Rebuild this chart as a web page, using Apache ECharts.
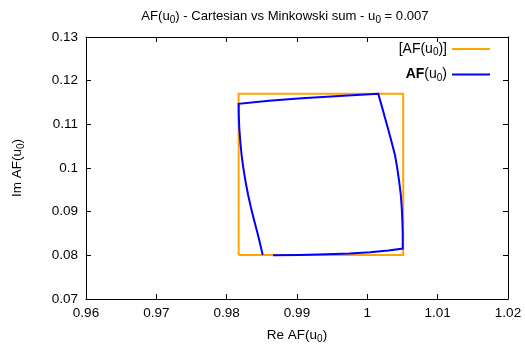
<!DOCTYPE html>
<html>
<head>
<meta charset="utf-8">
<script src="https://cdn.jsdelivr.net/npm/echarts@6/dist/echarts.min.js"></script>
<style>html,body{margin:0;padding:0;background:#fff;}#c{width:525px;height:351px;}</style>
</head>
<body>
<div id="c"></div>
<script>
var xTicks = [0.96, 0.97, 0.98, 0.99, 1.00, 1.01, 1.02];
var yTicks = [0.07, 0.08, 0.09, 0.10, 0.11, 0.12, 0.13];
// Cartesian (interval) enclosure [AF(u0)]
var hullX = [0.9817, 1.0051, 1.0051, 0.9817, 0.9817];
var hullY = [0.0801, 0.0801, 0.1170, 0.1170, 0.0801];
// Minkowski sum AF(u0) boundary: bottom -> right -> top -> left (open at bottom-left)
var afX = [0.9866, 0.9904, 0.9942, 0.9975, 1.0004, 1.0030, 1.00504,
           1.00503, 1.00498, 1.00489, 1.00475, 1.00452, 1.00425, 1.00393, 1.00328, 1.00265, 1.00208, 1.00156,
           0.9960, 0.9907, 0.9860, 0.98170,
           0.98172, 0.98180, 0.98194, 0.98212, 0.98237, 0.98267, 0.98303, 0.98344, 0.98391, 0.98440, 0.98478, 0.98512];
var afY = [0.0800, 0.0801, 0.08025, 0.0804, 0.0807, 0.0811, 0.08155,
           0.0850, 0.0880, 0.0910, 0.0940, 0.0970, 0.1000, 0.1030, 0.1070, 0.1107, 0.1140, 0.1170,
           0.1165, 0.1160, 0.1154, 0.1147,
           0.1120, 0.1090, 0.1060, 0.1030, 0.1000, 0.0970, 0.0940, 0.0910, 0.0880, 0.0850, 0.0825, 0.0801];

function zip(a, b) { return a.map(function (v, i) { return [v, b[i]]; }); }

var FONT = 'Liberation Sans, Arial, sans-serif';
var FS = 13.5;
var sub = { fontSize: 10, fontFamily: FONT, color: '#000', padding: [7, 0, 0, 0] };
var chart = echarts.init(document.getElementById('c'), null, { renderer: 'canvas' });
var axisCommon = {
  type: 'value',
  splitLine: { show: false },
  axisLine: { show: true, lineStyle: { color: '#000', width: 1 } },
  axisTick: { show: true, inside: true, length: 5, lineStyle: { color: '#000' } }
};
var BLUE = '#0000FF', ORANGE = '#FFA500';
chart.setOption({
  animation: false,
  backgroundColor: '#fff',
  title: {
    text: 'AF(u{s|0}) - Cartesian vs Minkowski sum - u{s|0} = 0.007',
    left: 280, top: 3, textAlign: 'center',
    textStyle: {
      fontSize: 13.1, fontWeight: 'normal', fontFamily: FONT, color: '#000',
      rich: { s: sub }
    }
  },
  grid: { left: 86, right: 17, top: 37, bottom: 52 },
  legend: {
    orient: 'vertical', right: 29, top: 37, align: 'right',
    itemWidth: 38, itemHeight: 16, itemGap: 10,
    data: ['hull', 'af'],
    itemStyle: { opacity: 0 },
    formatter: function (n) { return n === 'hull' ? '[AF(u{s|0})]' : '{b|AF}(u{s|0})'; },
    textStyle: {
      fontSize: 14, fontFamily: FONT, color: '#000',
      rich: { s: sub, b: { fontSize: 14, fontWeight: 'bold', fontFamily: FONT, color: '#000' } }
    }
  },
  xAxis: [
    Object.assign({}, axisCommon, {
      min: 0.96, max: 1.02, interval: 0.01,
      name: 'Re AF(u{s|0})', nameLocation: 'middle', nameGap: 28,
      nameTextStyle: { fontSize: FS, fontFamily: FONT, color: '#000', rich: { s: sub } },
      axisLabel: { fontSize: FS, fontFamily: FONT, color: '#000', margin: 7 }
    }),
    Object.assign({}, axisCommon, {
      position: 'top', min: 0.96, max: 1.02, interval: 0.01,
      axisLabel: { show: false }
    })
  ],
  yAxis: [
    Object.assign({}, axisCommon, {
      min: 0.07, max: 0.13, interval: 0.01,
      name: 'Im AF(u{s|0})', nameLocation: 'middle', nameGap: 60, nameRotate: 90,
      nameTextStyle: { fontSize: FS, fontFamily: FONT, color: '#000', rich: { s: sub } },
      axisLabel: { fontSize: FS, fontFamily: FONT, color: '#000', margin: 8 }
    }),
    Object.assign({}, axisCommon, {
      position: 'right', min: 0.07, max: 0.13, interval: 0.01,
      axisLabel: { show: false }
    })
  ],
  series: [
    {
      name: 'hull', type: 'line', data: zip(hullX, hullY),
      showSymbol: false, symbol: 'none',
      lineStyle: { color: ORANGE, width: 2, join: 'miter' }, itemStyle: { color: ORANGE }
    },
    {
      name: 'af', type: 'line', data: zip(afX, afY),
      showSymbol: false, symbol: 'none',
      lineStyle: { color: BLUE, width: 2, join: 'miter' }, itemStyle: { color: BLUE }
    }
  ]
});
</script>
</body>
</html>
